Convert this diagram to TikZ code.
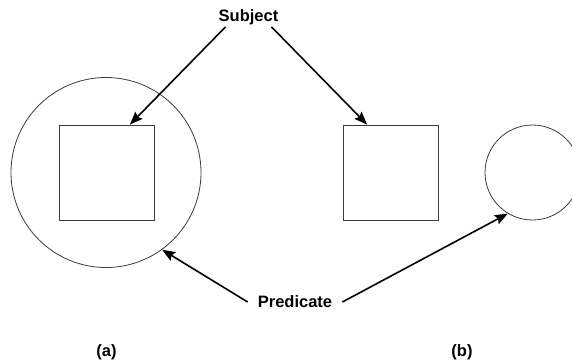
\documentclass[tikz,border=0pt]{standalone}
\usepackage{fontspec}
\setmainfont{Liberation Sans}
\usetikzlibrary{arrows.meta}
\definecolor{E}{RGB}{60, 60, 60}

\begin{document}
\begin{tikzpicture}[x=1pt, y=-1pt,
  lbl/.style={font=\fontsize{16.5}{18}\selectfont\bfseries, inner sep=2pt},
  sq/.style={draw=E, line width=0.8pt, minimum size=95pt, inner sep=0pt},
  ring/.style={draw=E, line width=0.8pt, circle, inner sep=0pt},
  arr/.style={black, line width=1.6pt, -{Stealth[length=13pt, width=10pt, inset=2pt]}}]
  \useasboundingbox (0,0) rectangle (572,360);
  \clip (0,0) rectangle (572,360);
  \node[ring, minimum size=190pt] (bigc) at (106,172.5) {};
  \node[sq] (lsq) at (106.5,172.5) {};
  \node[sq] (rsq) at (390.5,172.5) {};
  \node[ring, minimum size=95pt] (smc) at (532.5,172.5) {};
  \node[lbl] (subj) at (248.5,17) {Subject};
  \node[lbl, inner xsep=10pt] (pred) at (295,302) {Predicate};
  \node[lbl] (la) at (106.5,352) {(a)};
  \node[lbl] (lb) at (462,352) {(b)};
  \draw[arr] ([xshift=-23pt]subj.south) -- (lsq.64);
  \draw[arr] ([xshift=23pt]subj.south) -- (rsq.116);
  \draw[arr] (pred.west) -- (bigc.-54);
  \draw[arr] (pred.east) -- (smc.-121);
\end{tikzpicture}
\end{document}
